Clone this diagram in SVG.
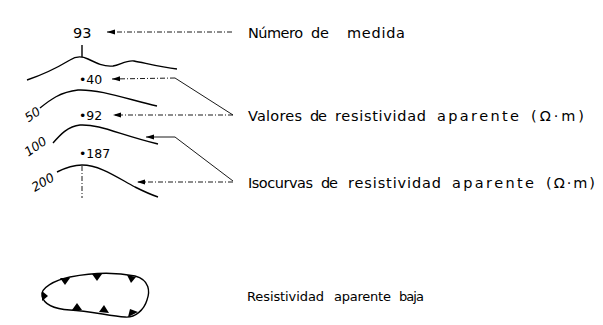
<svg xmlns="http://www.w3.org/2000/svg" width="603" height="325" viewBox="0 0 603 325">
<defs>
<style>
.t{font-family:"DejaVu Sans","Liberation Sans",sans-serif;font-size:14.5px;fill:#000}
.b{font-family:"DejaVu Sans","Liberation Sans",sans-serif;font-size:13px;fill:#000}
.n{font-family:"DejaVu Sans","Liberation Sans",sans-serif;font-size:12.5px;fill:#000}
.c{fill:none;stroke:#000;stroke-width:1.4}
.d{fill:none;stroke:#000;stroke-width:0.9;stroke-dasharray:5 2 1 2}
.s{fill:none;stroke:#000;stroke-width:0.9}
.tri{fill:#000}
</style>
<marker id="ah" viewBox="0 0 8 6" refX="8" refY="3" markerWidth="8" markerHeight="6" markerUnits="userSpaceOnUse" orient="auto">
<path d="M8,3 L0,0.5 L0,5.5 Z" fill="#000"/>
</marker>
</defs>
<rect width="603" height="325" fill="#fff"/>
<g id="curves">
<path class="c" d="M82,45 L82,57"/>
<path class="c" d="M27,80 C45,74 60,66 70,60 C76,56 82,56 88,59 C96,63 104,67 113,66 C120,65 126,60 134,61 C145,63 160,67 177,69"/>
<path class="c" d="M40,108 C50,100 60,92 78,90 C100,89 130,100 157,106"/>
<path class="c" d="M53,143 C60,135 68,126 80,125 C100,124 120,135 158,144"/>
<path class="c" d="M57,172 C65,168 72,165 82,165 C100,165 118,178 135,187 C145,192 152,195 158,197"/>
<path class="d" d="M82,166 L82,198"/>
</g>
<g id="labels-values">
<text class="t" x="73" y="38" font-size="15">93</text>
<text class="n" x="79" y="84">•40</text>
<text class="n" x="79" y="120">•92</text>
<text class="n" x="79" y="158">•187</text>
<text class="n" transform="translate(35,118) rotate(-35)" text-anchor="middle" font-style="italic">50</text>
<text class="n" transform="translate(38,150) rotate(-35)" text-anchor="middle" font-style="italic">100</text>
<text class="n" transform="translate(45,186) rotate(-30)" text-anchor="middle" font-style="italic">200</text>
</g>
<g id="connectors">
<path class="d" d="M232,32 L107,32" marker-end="url(#ah)"/>
<path class="s" d="M233,115 L175,78"/>
<path class="d" d="M175,78 L112,79" marker-end="url(#ah)"/>
<path class="d" d="M233,115 L113,115" marker-end="url(#ah)"/>
<path class="s" d="M233,181 L175,137 L155,137"/>
<path d="M155,137 L146,137" class="s" marker-end="url(#ah)"/>
<path class="d" d="M233,182 L137,182" marker-end="url(#ah)"/>
</g>
<g id="legend-numero"><text class="t" y="38"><tspan x="248" textLength="55" lengthAdjust="spacing">Número</tspan> <tspan x="311" textLength="18" lengthAdjust="spacing">de</tspan> <tspan x="347" textLength="58" lengthAdjust="spacing">medida</tspan></text></g>
<g id="legend-valores"><text class="t" y="121"><tspan x="248" textLength="54" lengthAdjust="spacing">Valores</tspan> <tspan x="310" textLength="17" lengthAdjust="spacing">de</tspan> <tspan x="335" textLength="91" lengthAdjust="spacing">resistividad</tspan> <tspan x="437" textLength="82" lengthAdjust="spacing">aparente</tspan> <tspan x="531" textLength="53" lengthAdjust="spacing">(Ω·m)</tspan></text></g>
<g id="legend-isocurvas"><text class="t" y="188"><tspan x="248" textLength="65" lengthAdjust="spacing">Isocurvas</tspan> <tspan x="321" textLength="17" lengthAdjust="spacing">de</tspan> <tspan x="348" textLength="93" lengthAdjust="spacing">resistividad</tspan> <tspan x="452" textLength="82" lengthAdjust="spacing">aparente</tspan> <tspan x="546" textLength="49" lengthAdjust="spacing">(Ω·m)</tspan></text></g>
<g id="blob">
<path class="c" stroke-width="1.8" d="M42,296 C40,288 55,280 70,277 C90,273 115,272 135,276 C150,280 150,292 147,300 C144,310 135,318 125,317 C110,316 90,311 70,310 C55,309 44,305 42,296 Z"/>
<path class="tri" d="M60,278 L70,278 L65,285 Z"/>
<path class="tri" d="M92,274 L102,274 L97,281 Z"/>
<path class="tri" d="M127,275 L136,277 L131,283 Z"/>
<path class="tri" d="M42,291 L42,301 L48,296 Z"/>
<path class="tri" d="M72,310 L82,310 L77,303 Z"/>
<path class="tri" d="M99,312 L109,313 L104,305 Z"/>
<path class="tri" d="M128,317 L138,312 L130,309 Z"/>
</g>
<g id="legend-baja"><text class="b" y="301"><tspan x="247" textLength="77" lengthAdjust="spacing">Resistividad</tspan> <tspan x="334" textLength="57" lengthAdjust="spacing">aparente</tspan> <tspan x="399" textLength="25" lengthAdjust="spacing">baja</tspan></text></g>
</svg>
